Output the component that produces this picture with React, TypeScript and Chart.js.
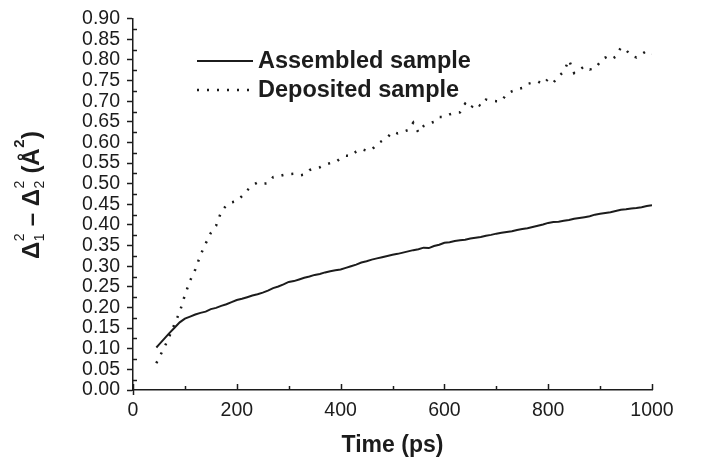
import React, { useEffect, useRef } from "react";
import { Chart, registerables } from "chart.js";

Chart.register(...registerables);

const times = [
  45, 50, 60, 70, 80, 90, 100, 110, 120, 130, 140, 150, 160, 170, 180, 190, 200,
  210, 220, 230, 240, 250, 260, 270, 280, 290, 300, 310, 320, 330, 340, 350, 360,
  370, 380, 390, 400, 410, 420, 430, 440, 450, 460, 470, 480, 490, 500, 510, 520,
  530, 540, 550, 560, 570, 580, 590, 600, 610, 620, 630, 640, 650, 660, 670, 680,
  690, 700, 710, 720, 730, 740, 750, 760, 770, 780, 790, 800, 810, 820, 830, 840,
  850, 860, 870, 880, 890, 900, 910, 920, 930, 940, 950, 960, 970, 980, 990, 1000,
];

const assembled = [
  0.103, 0.11, 0.124, 0.138, 0.151, 0.164, 0.173, 0.178, 0.183, 0.187, 0.19, 0.196,
  0.199, 0.204, 0.208, 0.213, 0.218, 0.221, 0.225, 0.229, 0.232, 0.236, 0.241, 0.247,
  0.251, 0.256, 0.262, 0.264, 0.268, 0.272, 0.275, 0.279, 0.281, 0.285, 0.288, 0.29,
  0.292, 0.296, 0.3, 0.304, 0.309, 0.312, 0.316, 0.319, 0.322, 0.325, 0.328, 0.33,
  0.333, 0.336, 0.339, 0.341, 0.345, 0.344, 0.349, 0.352, 0.357, 0.358, 0.361, 0.363,
  0.364, 0.367, 0.369, 0.371, 0.374, 0.376, 0.379, 0.381, 0.383, 0.385, 0.388, 0.39,
  0.392, 0.395, 0.398, 0.401, 0.405, 0.407, 0.408, 0.41, 0.412, 0.415, 0.417, 0.419,
  0.421, 0.425, 0.427, 0.429, 0.431, 0.434, 0.437, 0.438, 0.44, 0.441, 0.443, 0.446,
  0.448,
];

const deposited = [
  0.065, 0.078, 0.102, 0.13, 0.16, 0.189, 0.23, 0.265, 0.292, 0.327, 0.355, 0.381,
  0.398, 0.432, 0.448, 0.455, 0.458, 0.47, 0.484, 0.496, 0.503, 0.5, 0.501, 0.516,
  0.518, 0.521, 0.523, 0.524, 0.52, 0.522, 0.533, 0.537, 0.54, 0.546, 0.55, 0.552,
  0.562, 0.568, 0.567, 0.578, 0.584, 0.58, 0.582, 0.596, 0.604, 0.612, 0.626, 0.622,
  0.626, 0.63, 0.648, 0.624, 0.64, 0.646, 0.65, 0.662, 0.662, 0.668, 0.672, 0.673,
  0.694, 0.682, 0.696, 0.688, 0.704, 0.701, 0.7, 0.7, 0.718, 0.724, 0.729, 0.732,
  0.742, 0.745, 0.748, 0.741, 0.754, 0.745, 0.76, 0.772, 0.8, 0.768, 0.776, 0.785,
  0.777, 0.779, 0.795, 0.806, 0.8, 0.808, 0.83, 0.824, 0.81, 0.806, 0.814, 0.822,
  0.815,
];

const seriesLabels = ["Assembled sample", "Deposited sample"];
const xTitle = "Time (ps)";
const yMin = 0;
const yMax = 0.9;
const yStep = 0.05;
const yMinorStep = 0.025;
const xMin = 0;
const xMax = 1000;
const xStep = 200;
const xMinorStep = 100;

const INK = "#1c1c1c";
const FONT = "'Liberation Sans', Arial, Helvetica, sans-serif";

const minorTicksPlugin = {
  id: "minorTicks",
  afterDraw(chart: any) {
    const { ctx } = chart;
    const xs = chart.scales.x;
    const ys = chart.scales.y;
    ctx.save();
    ctx.strokeStyle = INK;
    ctx.lineWidth = 1.5;
    const nY = Math.round((yMax - yMin) / yMinorStep);
    for (let i = 0; i <= nY; i++) {
      if (i % 2 === 0) continue;
      const py = Math.round(ys.getPixelForValue(yMin + i * yMinorStep)) + 0.5;
      ctx.beginPath();
      ctx.moveTo(xs.left, py);
      ctx.lineTo(xs.left + 4, py);
      ctx.stroke();
    }
    const nX = Math.round((xMax - xMin) / xMinorStep);
    for (let i = 0; i <= nX; i++) {
      const px = Math.round(xs.getPixelForValue(xMin + i * xMinorStep)) + 0.5;
      const len = i % 2 === 0 ? 6 : 4;
      ctx.beginPath();
      ctx.moveTo(px, ys.bottom);
      ctx.lineTo(px, ys.bottom - len);
      ctx.stroke();
    }
    const p0 = Math.round(xs.getPixelForValue(xMin)) + 0.5;
    ctx.beginPath();
    ctx.moveTo(p0, ys.bottom);
    ctx.lineTo(p0, ys.bottom + 5);
    ctx.stroke();
    ctx.restore();
  },
};

const legendPlugin = {
  id: "insideLegend",
  afterDraw(chart: any) {
    const { ctx } = chart;
    const rows = [61, 90];
    ctx.save();
    chart.data.datasets.forEach((ds: any, i: number) => {
      const y = rows[i];
      ctx.strokeStyle = ds.borderColor;
      ctx.lineWidth = ds.borderWidth;
      ctx.setLineDash(ds.borderDash || []);
      ctx.beginPath();
      ctx.moveTo(197, y);
      ctx.lineTo(253, y);
      ctx.stroke();
      ctx.setLineDash([]);
      ctx.fillStyle = INK;
      ctx.font = `bold 23.5px ${FONT}`;
      ctx.textBaseline = "middle";
      ctx.textAlign = "left";
      ctx.fillText(ds.label, 258, y + 1);
    });
    ctx.restore();
  },
};

const yTitlePlugin = {
  id: "yTitleCustom",
  afterDraw(chart: any) {
    const { ctx } = chart;
    const big = `bold 24px ${FONT}`;
    const small = `14px ${FONT}`;
    const smallBold = `bold 15px ${FONT}`;
    const segs: any[] = [
      { t: "Δ", f: big },
      { sup: "2", sub: "1", f: small },
      { t: " – ", f: big },
      { t: "Δ", f: big },
      { sup: "2", sub: "2", f: small },
      { t: " (Å", f: big },
      { sup: "2", f: smallBold },
      { t: ")", f: big },
    ];
    ctx.save();
    ctx.fillStyle = INK;
    ctx.textBaseline = "alphabetic";
    ctx.textAlign = "left";
    const widths = segs.map((s) => {
      ctx.font = s.f;
      if (s.t) return ctx.measureText(s.t).width;
      const a = s.sup ? ctx.measureText(s.sup).width : 0;
      const b = s.sub ? ctx.measureText(s.sub).width : 0;
      return Math.max(a, b) + 1;
    });
    const total = widths.reduce((a, b) => a + b, 0);
    ctx.translate(39, 195);
    ctx.rotate(-Math.PI / 2);
    let x = -total / 2;
    segs.forEach((s, i) => {
      ctx.font = s.f;
      if (s.t) ctx.fillText(s.t, x, 0);
      if (s.sup) ctx.fillText(s.sup, x + 0.5, -15);
      if (s.sub) ctx.fillText(s.sub, x + 0.5, 5);
      x += widths[i];
    });
    ctx.restore();
  },
};

export default function App() {
  const canvasRef = useRef<HTMLCanvasElement | null>(null);

  useEffect(() => {
    document.body.style.margin = "0";
    const canvas = canvasRef.current;
    if (!canvas) return;
    const chart = new Chart(canvas, {
      type: "line",
      data: {
        datasets: [
          {
            label: seriesLabels[0],
            data: times.map((t, i) => ({ x: t, y: assembled[i] })),
            borderColor: INK,
            borderWidth: 2,
            pointRadius: 0,
            tension: 0,
            fill: false,
          },
          {
            label: seriesLabels[1],
            data: times.map((t, i) => ({ x: t, y: deposited[i] })),
            borderColor: INK,
            borderWidth: 2.5,
            borderDash: [2, 8],
            pointRadius: 0,
            tension: 0,
            fill: false,
          },
        ],
      },
      options: {
        animation: false,
        responsive: false,
        maintainAspectRatio: false,
        layout: { padding: { left: 0, top: 15, right: 58, bottom: 0 } },
        plugins: {
          legend: { display: false },
          tooltip: { enabled: false },
        },
        scales: {
          x: {
            type: "linear",
            min: xMin,
            max: xMax,
            grid: { display: false, drawTicks: false },
            border: { display: true, color: INK, width: 1.5 },
            ticks: {
              stepSize: xStep,
              padding: 9,
              color: INK,
              font: { family: FONT, size: 19.5 },
              maxRotation: 0,
              callback: (v: any) => String(v),
            },
            title: {
              display: true,
              text: xTitle,
              color: INK,
              font: { family: FONT, size: 23, weight: "bold" },
              padding: { top: 0, bottom: 9 },
            },
            afterFit(scale: any) {
              scale.height = 78;
            },
          },
          y: {
            type: "linear",
            min: yMin,
            max: yMax,
            grid: {
              display: true,
              drawOnChartArea: false,
              drawTicks: true,
              tickLength: 6,
              tickWidth: 1.5,
              tickColor: INK,
              color: INK,
            },
            border: { display: true, color: INK, width: 1.5 },
            ticks: {
              stepSize: yStep,
              padding: 7,
              color: INK,
              font: { family: FONT, size: 19.5 },
              callback: (v: any) => Number(v).toFixed(2),
              autoSkip: false,
            },
            afterFit(scale: any) {
              scale.width = 133;
            },
          },
        },
      },
      plugins: [minorTicksPlugin, legendPlugin, yTitlePlugin],
    });
    return () => chart.destroy();
  }, []);

  return (
    <div style={{ width: 710, height: 468, position: "relative" }}>
      <canvas ref={canvasRef} width={710} height={468} style={{ display: "block" }} />
    </div>
  );
}
